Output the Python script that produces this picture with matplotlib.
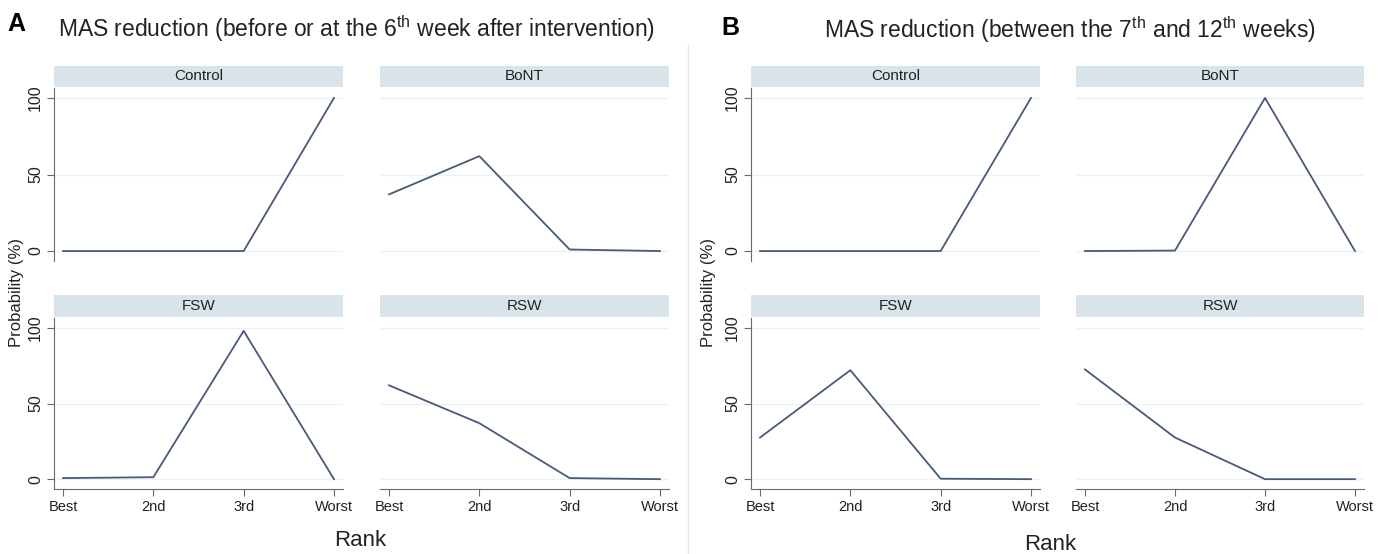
import matplotlib
matplotlib.use("Agg")
import matplotlib.pyplot as plt
from matplotlib.lines import Line2D

plt.rcParams['font.family'] = ['Liberation Sans', 'DejaVu Sans']
plt.rcParams['mathtext.fontset'] = 'custom'
plt.rcParams['mathtext.rm'] = 'Liberation Sans'

# ---- data ----
ranks = ["Best", "2nd", "3rd", "Worst"]
treatments = ["Control", "BoNT", "FSW", "RSW"]
yticks = [0, 50, 100]

a_control = [0, 0, 0, 100]
a_bont = [37, 62, 1, 0]
a_fsw = [0.7, 1.3, 98, 0]
a_rsw = [62, 37, 0.7, 0]

b_control = [0, 0, 0, 100]
b_bont = [0, 0.3, 100, 0]
b_fsw = [27.5, 72, 0.3, 0]
b_rsw = [72.5, 27.5, 0, 0]

title_a = "MAS reduction (before or at the 6$^{\\rm th}$ week after intervention)"
title_b = "MAS reduction (between the 7$^{\\rm th}$ and 12$^{\\rm th}$ weeks)"

W, H = 1391, 554
fig = plt.figure(figsize=(W / 100, H / 100), dpi=100)

LINE = '#485a78'
STRIP = '#d9e3ea'
GRID = '#edf1f4'
AXC = '#6a6a6a'
narrow = ['Liberation Sans Narrow', 'Liberation Sans', 'DejaVu Sans']

def px(x0, x1, ytop, ybot):
    return [x0 / W, 1 - ybot / H, (x1 - x0) / W, (ybot - ytop) / H]

def panel(xcols, series):
    rows = [(88, 261, 66, 87), (318, 489, 295, 317)]
    k = 0
    for r, (yt, yb, st, sb) in enumerate(rows):
        for c, (x0, x1) in enumerate(xcols):
            ax = fig.add_axes(px(x0, x1, yt, yb))
            vals = series[k]
            xs = list(range(len(ranks)))
            for yv in yticks:
                ax.axhline(yv, color=GRID, lw=1.0, zorder=0)
            ax.plot(xs, vals, color=LINE, lw=1.3, zorder=3)
            ax.set_xlim(-0.1, 3.1)
            ax.set_ylim(-6.5, 106.5)
            for s in ['top', 'right']:
                ax.spines[s].set_visible(False)
            ax.spines['left'].set_color(AXC)
            ax.spines['bottom'].set_color(AXC)
            if c == 0:
                ax.set_yticks(yticks)
                ax.set_yticklabels([str(v) for v in yticks], rotation=90,
                                   va='center', fontsize=11.5, family=narrow,
                                   color='#222222')
                ax.tick_params(axis='y', length=5, color=AXC, pad=3)
            else:
                ax.spines['left'].set_visible(False)
                ax.set_yticks([])
            if r == 1:
                ax.set_xticks(xs)
                ax.set_xticklabels(ranks, fontsize=10.5, family=narrow,
                                   color='#222222')
                ax.tick_params(axis='x', length=5, color=AXC, pad=3)
            else:
                ax.spines['bottom'].set_visible(False)
                ax.set_xticks([])
            ax.patch.set_alpha(0)
            # strip
            sax = fig.add_axes(px(x0, x1, st, sb))
            sax.set_facecolor(STRIP)
            for s in sax.spines.values():
                s.set_visible(False)
            sax.set_xticks([])
            sax.set_yticks([])
            sax.text(0.5, 0.5, treatments[k], ha='center', va='center',
                     fontsize=11, family=narrow, color='#222222')
            k += 1

panel([(54, 343), (380, 669)], [a_control, a_bont, a_fsw, a_rsw])
panel([(751, 1040), (1076, 1364)], [b_control, b_bont, b_fsw, b_rsw])

# titles and labels
fig.text(7 / W, 1 - 24 / H, "A", fontsize=18, fontweight='bold', va='center', ha='left')
fig.text(357 / W, 1 - 29 / H, title_a, fontsize=16.5, va='center', ha='center', color='#222222')
fig.text(721 / W, 1 - 28 / H, "B", fontsize=18, fontweight='bold', va='center', ha='left')
fig.text(1070 / W, 1 - 30 / H, title_b, fontsize=16.5, va='center', ha='center', color='#222222')

fig.text(360 / W, 1 - 541 / H, "Rank", fontsize=16, ha='center', va='center', color='#222222')
fig.text(1050 / W, 1 - 545 / H, "Rank", fontsize=16, ha='center', va='center', color='#222222')
fig.text(17 / W, 1 - 292 / H, "Probability (%)", fontsize=12, rotation=90, ha='center', va='center', color='#222222')
fig.text(709 / W, 1 - 292 / H, "Probability (%)", fontsize=12, rotation=90, ha='center', va='center', color='#222222')

# faint separator between panels
fig.add_artist(Line2D([688 / W, 688 / W], [0.0, 1 - 45 / H], transform=fig.transFigure,
                      color='#e6e6e6', lw=1.0))

fig.savefig("out.png", dpi=100)
